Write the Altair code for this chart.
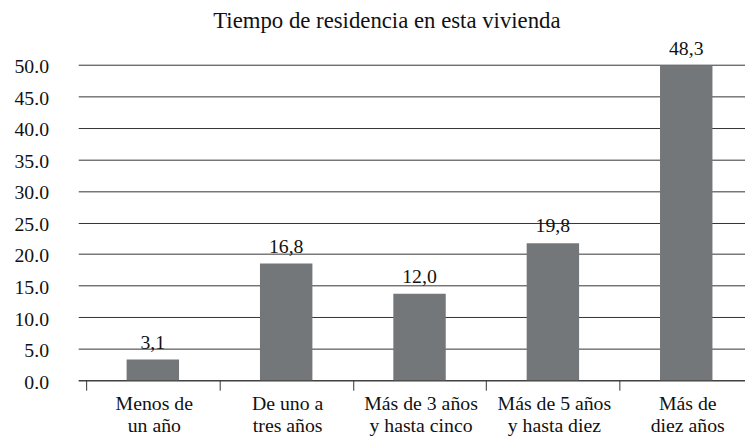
import altair as alt
import pandas as pd

categories = ["Menos de\nun año", "De uno a\ntres años", "Más de 3 años\ny hasta cinco",
              "Más de 5 años\ny hasta diez", "Más de\ndiez años"]
bar_heights = [3.3, 18.5, 13.7, 21.7, 49.8]
bar_labels = ["3,1", "16,8", "12,0", "19,8", "48,3"]
y_ticks = [0, 5, 10, 15, 20, 25, 30, 35, 40, 45, 50]

df = pd.DataFrame({"cat": categories, "val": bar_heights, "lab": bar_labels})

FONT = "Liberation Serif"
base = alt.Chart(df).encode(
    x=alt.X(
        "cat:N", sort=None, title=None,
        scale=alt.Scale(paddingInner=0, paddingOuter=0),
        axis=alt.Axis(
            bandPosition=0, tickOffset=8, labelOffset=1, labelAngle=0,
            tickSize=10, tickColor="#333", tickWidth=1,
            domainColor="#333", domainWidth=1,
            labelFont=FONT, labelFontSize=20, labelColor="#111",
            labelLineHeight=22, labelPadding=4,
            labelExpr="split(datum.label, '\\n')",
        ),
    ),
    y=alt.Y(
        "val:Q", title=None,
        scale=alt.Scale(domain=[0, 50], nice=False),
        axis=alt.Axis(
            values=y_ticks, format=".1f", ticks=False, domain=False,
            grid=True, gridColor="#333", gridWidth=1, labelOverlap=False,
            labelFont=FONT, labelFontSize=20, labelColor="#111",
            labelPadding=30, labelOffset=2,
        ),
    ),
)

bars = base.mark_bar(size=53, xOffset=8, color="#74777a")
texts = base.mark_text(
    xOffset=8, dy=-11, baseline="alphabetic", font=FONT, fontSize=20, color="#111"
).encode(text="lab:N")

chart = alt.layer(bars, texts).properties(
    width=674, height=319,
    title=alt.TitleParams(
        "Tiempo de residencia en esta vivienda", font=FONT, fontSize=23,
        fontWeight="normal", color="#111", anchor="middle", dx=-25, dy=-2,
    ),
    autosize=alt.AutoSizeParams(type="none"),
    padding={"left": 71, "top": 55, "right": 0, "bottom": 56},
).configure_view(stroke=None)

chart.save("out.html", embed_options={"renderer": "svg", "actions": False})
